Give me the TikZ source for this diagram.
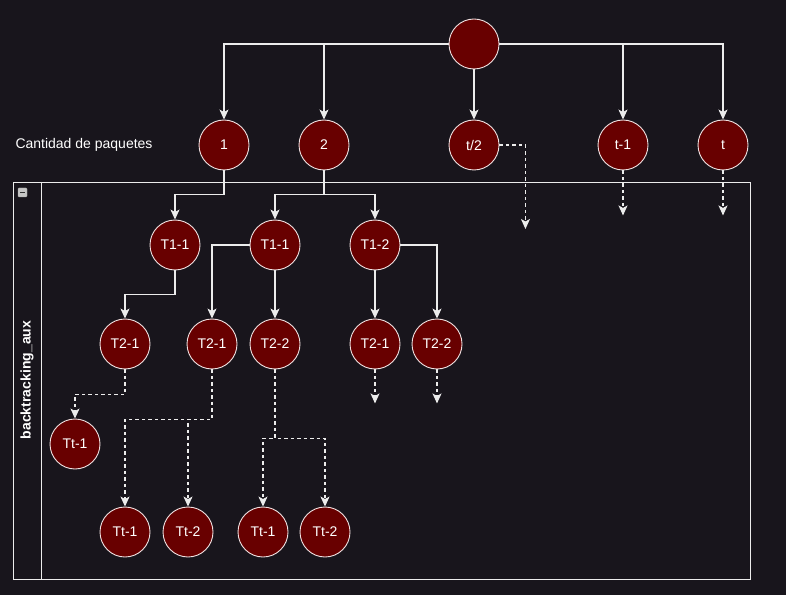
\documentclass[tikz,border=0pt]{standalone}
\usepackage{fontspec}
\setmainfont{Liberation Sans}
\usepackage{tikz}
\usetikzlibrary{arrows.meta,positioning,calc}

\definecolor{bgdark}{RGB}{24,21,28}
\definecolor{pktred}{RGB}{104,0,0}
\definecolor{pktline}{RGB}{240,226,226}
\definecolor{edgecol}{RGB}{236,236,236}

\tikzset{
  pkt/.style={circle, draw=pktline, fill=pktred, line width=0.9pt, minimum size=50pt, inner sep=0pt,
    text=white, font=\fontsize{14}{16}\selectfont},
  lbl/.style={text=white, font=\fontsize{14}{16}\selectfont},
  edge/.style={draw=edgecol, line width=1.1pt, -{Stealth[length=10pt,width=9pt,inset=2.5pt]}},
  dedge/.style={edge, dash pattern=on 3.5pt off 3pt},
}

\begin{document}
\begin{tikzpicture}[x=1pt, y=1pt, on grid]
          \useasboundingbox[fill=bgdark] (0,0) rectangle (786,595);

          % container
          \draw[edgecol, line width=0.9pt] (13,413) rectangle (750,16);
          \draw[edgecol, line width=0.9pt] (41,413) -- (41,16);
          \draw[gray!70, fill=gray!45, rounded corners=1pt] (18,398) rectangle (27,407);
          \draw[black!80, line width=1.2pt] (19.8,402.5) -- (25.2,402.5);
          \node[lbl, font=\fontsize{14}{16}\selectfont\bfseries, rotate=90] (box_title) at (27,215) {backtracking\_aux};

          % nodes

          %root
          \node[pkt] (root) at (474,551) {};
          %packets
          \node[pkt, below=101pt of root] (pkt_half) {t/2};
          \node[pkt, left=150pt of pkt_half] (pkt_two) {2};
          \node[pkt, left=100pt of pkt_two] (pkt_one) {1};
          \node[pkt, right=149pt of pkt_half] (pkt_tm) {t-1};
          \node[pkt, right=100pt of pkt_tm] (pkt_t) {t};
          \node[lbl] (cantidad) at (84,450) {Cantidad de paquetes};

          %T1
          \node[pkt, below=100pt of pkt_two, xshift=-49pt] (t1_b) {T1-1};
          \node[pkt, left=100pt of t1_b] (t1_a) {T1-1};
          \node[pkt, right=100pt of t1_b] (t1_c) {T1-2};

          %T2
          \node[pkt, below=99pt of t1_a, xshift=-50pt] (t2_a) {T2-1};
          \node[pkt, below=99pt of t1_b, xshift=-63pt] (t2_b) {T2-1};
          \node[pkt, below=99pt of t1_b] (t2_bb) {T2-2};
          \node[pkt, below=99pt of t1_c] (t2_c) {T2-1};
          \node[pkt, right=62pt of t2_c] (t2_cc) {T2-2};

          %Tt
          \node[pkt, below=100pt of t2_a, xshift=-50pt] (tt_a) {Tt-1};
          \node[pkt, below=188pt of t2_a] (tt_b) {Tt-1};
          \node[pkt, right=63pt of tt_b] (tt_bb) {Tt-2};
          \node[pkt, below=188pt of t2_bb, xshift=-12pt] (tt_d) {Tt-1};
          \node[pkt, right=62pt of tt_d] (tt_dd) {Tt-2};

          %free ends
          \coordinate (half_end) at ([xshift=26pt, yshift=-84pt] pkt_half.east);
          \coordinate[below=45pt of pkt_tm.south] (tm_end);
          \coordinate[below=45pt of pkt_t.south] (t_end);
          \coordinate[below=34pt of t2_c.south] (t2c_end);
          \coordinate[below=34pt of t2_cc.south] (t2cc_end);

          % edges
          \draw[edge] (root.west) -| (pkt_one);
          \draw[edge] (root.west) -| (pkt_two);
          \draw[edge] (root) -- (pkt_half);
          \draw[edge] (root.east) -| (pkt_tm);
          \draw[edge] (root.east) -| (pkt_t);

          \draw[edge] (pkt_one.south) -- ++(0,-24) -| (t1_a);
          \draw[edge] (pkt_two.south) -- ++(0,-24) -| (t1_b);
          \draw[edge] (pkt_two.south) -- ++(0,-24) -| (t1_c);

          \draw[edge] (t1_a.south) -- ++(0,-24) -| (t2_a);
          \draw[edge] (t1_b.west) -| (t2_b);
          \draw[edge] (t1_b) -- (t2_bb);
          \draw[edge] (t1_c) -- (t2_c);
          \draw[edge] (t1_c.east) -| (t2_cc);

          \draw[dedge] (t2_a.south) -- ++(0,-25) -| (tt_a);
          \draw[dedge] (t2_b.south) -- ++(0,-50) -| (tt_b);
          \draw[dedge] (t2_b.south) -- ++(0,-50) -| (tt_bb);
          \draw[dedge] (t2_bb.south) -- ++(0,-69) -| (tt_d);
          \draw[dedge] (t2_bb.south) -- ++(0,-69) -| (tt_dd);

          \draw[dedge] (pkt_half.east) -| (half_end);
          \draw[dedge] (pkt_tm.south) -- (tm_end);
          \draw[dedge] (pkt_t.south) -- (t_end);
          \draw[dedge] (t2_c.south) -- (t2c_end);
          \draw[dedge] (t2_cc.south) -- (t2cc_end);

\end{tikzpicture}
\end{document}
